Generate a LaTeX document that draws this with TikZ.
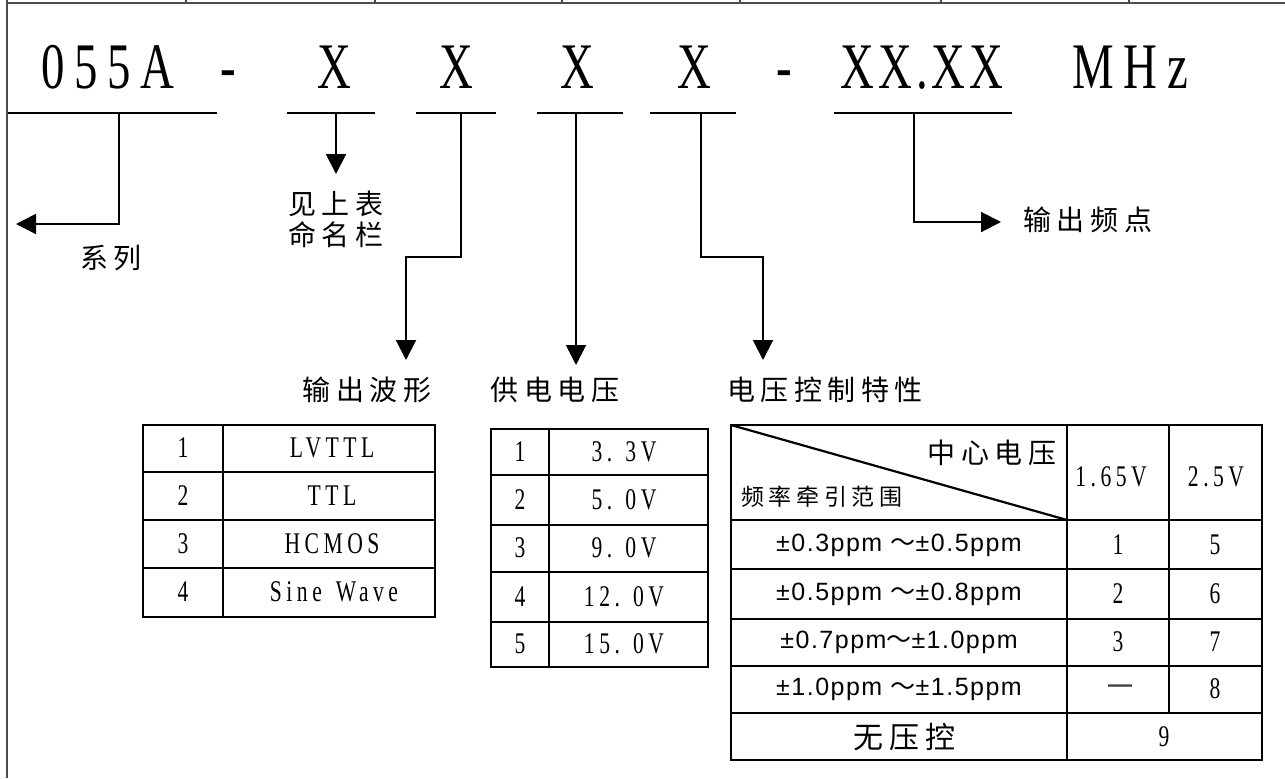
\documentclass[tikz,border=0pt]{standalone}
\usepackage{fontspec}
\setmainfont{Liberation Serif}
\newfontfamily\codefont{Liberation Serif}[FakeStretch=0.72,LetterSpace=15]
\newfontfamily\codetight{Liberation Serif}[FakeStretch=0.72,LetterSpace=6]
\newfontfamily\cjk{Noto Sans CJK SC}[LetterSpace=20]
\newfontfamily\tildefont{Noto Sans CJK SC}
\newfontfamily\ppmfont{Liberation Sans}[LetterSpace=6]
\usetikzlibrary{arrows.meta}

\begin{document}
\begin{tikzpicture}[x=0.5pt,y=-0.5pt]
    \tikzstyle{partno}=[anchor=base,inner sep=0pt,font=\codefont\fontsize{32.5pt}{36pt}\selectfont]
    \tikzstyle{tag}=[inner sep=0pt,font=\cjk\fontsize{14pt}{15.5pt}\selectfont]
    \tikzstyle{cell}=[inner sep=0pt,font=\codefont\fontsize{15pt}{17pt}\selectfont]
    \tikzstyle{ppm}=[inner sep=0pt,font=\ppmfont\fontsize{12.5pt}{14pt}\selectfont]
    \tikzstyle{bar}=[draw,line width=1.4pt]
    \tikzstyle{pointer}=[draw,line width=1pt,-{Triangle[length=10pt,width=10pt]}]
    \tikzstyle{rule}=[draw,line width=1.1pt]
    \tikzstyle{border}=[draw,line width=1.1pt,black!70]

    \useasboundingbox (0,0) rectangle (1285,778);

    % frame left over from the table above
    \path[border] (7,0) -- (7,778);
    \path[border] (7,3) -- (1285,3);
    \foreach \x in {186,375,562,740,941,1129}
        \path[border] (\x,0) -- (\x,3);

    % part number
    \node[partno] (series) at (108,88) {055A};
    \node[partno] (dasha) at (228,88) {-};
    \node[partno] (xa) at (334,88) {X};
    \node[partno] (xb) at (456,88) {X};
    \node[partno] (xc) at (577,88) {X};
    \node[partno] (xd) at (694,88) {X};
    \node[partno] (dashb) at (784,88) {-};
    \node[partno,font=\codetight\fontsize{32.5pt}{36pt}\selectfont] (freq) at (922,88) {XX.XX};
    \node[partno] (unit) at (1130,88) {MHz};

    \path[bar] (8,113) -- (217,113);
    \path[bar] (287,113) -- (375,113);
    \path[bar] (416,113) -- (496,113);
    \path[bar] (537,113) -- (623,113);
    \path[bar] (650,113) -- (736,113);
    \path[bar] (834,113) -- (1012,113);

    \coordinate (u1) at (119,113);
    \coordinate (u2) at (336,113);
    \coordinate (u3) at (461,113);
    \coordinate (u4) at (576,113);
    \coordinate (u5) at (701,113);
    \coordinate (u6) at (914,113);

    \coordinate (t1) at (16,224);
    \coordinate (t2) at (336,174);
    \coordinate (k3) at (406,257);
    \coordinate (t3) at (406,360);
    \coordinate (t4) at (576,365);
    \coordinate (k5) at (763,257);
    \coordinate (t5) at (763,360);
    \coordinate (t6) at (1001,222);

    \path[pointer] (u1) |- (t1);
    \path[pointer] (u2) -- (t2);
    \path[pointer] (u3) |- (k3) -- (t3);
    \path[pointer] (u4) -- (t4);
    \path[pointer] (u5) |- (k5) -- (t5);
    \path[pointer] (u6) |- (t6);

    \node[tag] (lseries) at (111,258) {系列};
    \node[tag,align=center] (lsee) at (336,219) {见上表\\命名栏};
    \node[tag] (lwave) at (367,390) {输出波形};
    \node[tag] (lvolt) at (555,390) {供电电压};
    \node[tag] (lctrl) at (825,390) {电压控制特性};
    \node[tag,anchor=west] (lfreq) at (1023,220) {输出频点};

    % output waveform
    \path[rule] (143,425) rectangle (435,617);
    \path[rule] (223,425) -- (223,617);
    \foreach \y in {472,520,568}
        \path[rule] (143,\y) -- (435,\y);
    \node[cell] (w1) at (183,448) {1};
    \node[cell] (w2) at (183,496) {2};
    \node[cell] (w3) at (183,544) {3};
    \node[cell] (w4) at (183,592) {4};
    \node[cell] (wn1) at (332,448) {LVTTL};
    \node[cell] (wn2) at (332,496) {TTL};
    \node[cell] (wn3) at (332,544) {HCMOS};
    \node[cell] (wn4) at (334,592) {Sine\hspace{7pt}Wave};

    % supply voltage
    \path[rule] (491,429) rectangle (708,667);
    \path[rule] (549,429) -- (549,667);
    \foreach \y in {475,525,572,622}
        \path[rule] (491,\y) -- (708,\y);
    \node[cell] (s1) at (520,452) {1};
    \node[cell] (s2) at (520,500) {2};
    \node[cell] (s3) at (520,548) {3};
    \node[cell] (s4) at (520,597) {4};
    \node[cell] (s5) at (520,644) {5};
    \node[cell] (sv1) at (624,452) {3. 3V};
    \node[cell] (sv2) at (624,500) {5. 0V};
    \node[cell] (sv3) at (624,548) {9. 0V};
    \node[cell] (sv4) at (624,597) {12. 0V};
    \node[cell] (sv5) at (624,644) {15. 0V};

    % voltage control
    \path[rule] (731,425) rectangle (1262,760);
    \path[rule] (1067,425) -- (1067,760);
    \path[rule] (1169,425) -- (1169,713);
    \foreach \y in {520,569,619,666,713}
        \path[rule] (731,\y) -- (1262,\y);
    \path[rule] (731,425) -- (1067,520);
    \node[tag,anchor=east] (hcenter) at (1057,453) {中心电压};
    \node[tag,anchor=west,font=\cjk\fontsize{11.5pt}{13pt}\selectfont] (hrange) at (741,497) {频率牵引范围};
    \node[cell] (hv1) at (1111,477) {1.65V};
    \node[cell] (hv2) at (1216,477) {2.5V};
    \node[ppm] (r1) at (899,545) {±0.3ppm {\tildefont ～}±0.5ppm};
    \node[ppm] (r2) at (899,594) {±0.5ppm {\tildefont ～}±0.8ppm};
    \node[ppm] (r3) at (899,642) {±0.7ppm{\tildefont ～}±1.0ppm};
    \node[ppm] (r4) at (899,689) {±1.0ppm {\tildefont ～}±1.5ppm};
    \node[cell] (a1) at (1118,545) {1};
    \node[cell] (a2) at (1118,594) {2};
    \node[cell] (a3) at (1118,642) {3};
    \node[ppm,font=\ppmfont\bfseries\fontsize{12pt}{14pt}\selectfont,black!75] (a4) at (1120,689) {—};
    \node[cell] (b1) at (1215,545) {5};
    \node[cell] (b2) at (1215,594) {6};
    \node[cell] (b3) at (1215,642) {7};
    \node[cell] (b4) at (1215,689) {8};
    \node[tag,font=\cjk\fontsize{15pt}{17pt}\selectfont] (nocontrol) at (904,737) {无压控};
    \node[cell] (c9) at (1164,737) {9};
\end{tikzpicture}
\end{document}
